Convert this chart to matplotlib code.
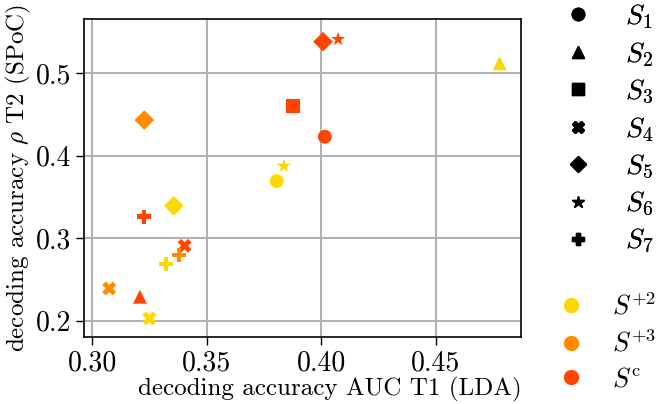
import matplotlib
matplotlib.use("Agg")
import matplotlib.pyplot as plt
from matplotlib.lines import Line2D

plt.rcParams['font.family'] = 'serif'
plt.rcParams['font.serif'] = ['cmr10', 'DejaVu Serif']
plt.rcParams['mathtext.fontset'] = 'cm'
plt.rcParams['axes.unicode_minus'] = False
plt.rcParams['axes.formatter.use_mathtext'] = True

# data
subjects = ['S1', 'S2', 'S3', 'S4', 'S5', 'S6', 'S7']
subject_labels = [r'$S_1$', r'$S_2$', r'$S_3$', r'$S_4$', r'$S_5$', r'$S_6$', r'$S_7$']
groups = ['Sc', 'S+3', 'S+2']
group_labels = {'S+2': r'$S^{+2}$', 'S+3': r'$S^{+3}$', 'Sc': r'$S^{\mathrm{c}}$'}

# Sc (red)
sc_subj = ['S1', 'S2', 'S3', 'S4', 'S5', 'S6', 'S7']
sc_auc = [0.4016, 0.3209, 0.3878, 0.3404, 0.4008, 0.4074, 0.3227]
sc_rho = [0.4231, 0.2290, 0.4603, 0.2908, 0.5384, 0.5413, 0.3260]

# S+3 (orange)
s3_subj = ['S4', 'S5', 'S7']
s3_auc = [0.3075, 0.3228, 0.3379]
s3_rho = [0.2391, 0.4433, 0.2797]

# S+2 (yellow)
s2_subj = ['S1', 'S2', 'S4', 'S5', 'S6', 'S7']
s2_auc = [0.3806, 0.4779, 0.3250, 0.3357, 0.3837, 0.3323]
s2_rho = [0.3693, 0.5121, 0.2027, 0.3393, 0.3875, 0.2686]

markers = {'S1': 'o', 'S2': '^', 'S3': 's', 'S4': 'X', 'S5': 'D', 'S6': '*', 'S7': 'P'}
colors = {'S+2': '#FFD700', 'S+3': '#FF8C00', 'Sc': '#FF4500'}

data = {
    'Sc': (sc_subj, sc_auc, sc_rho),
    'S+3': (s3_subj, s3_auc, s3_rho),
    'S+2': (s2_subj, s2_auc, s2_rho),
}

W, H = 661, 404
fig = plt.figure(figsize=(W / 100, H / 100), dpi=100)
ax = fig.add_axes([84 / W, 1 - 337 / H, (521 - 84) / W, (337 - 19) / H])

sizes = {'o': 100, '^': 100, 's': 100, 'X': 100, 'D': 100, '*': 115, 'P': 100}
for g in groups:
    subj, xs, ys = data[g]
    for s, x, y in zip(subj, xs, ys):
        m = markers[s]
        ax.scatter([x], [y], marker=m, s=sizes[m], color=colors[g], edgecolors='none', zorder=3)

ax.set_xlim(0.2965, 0.4872)
ax.set_ylim(0.1802, 0.5659)
ax.set_xticks([0.30, 0.35, 0.40, 0.45])
ax.set_xticklabels(['0.30', '0.35', '0.40', '0.45'])
ax.set_yticks([0.2, 0.3, 0.4, 0.5])
ax.set_yticklabels(['0.2', '0.3', '0.4', '0.5'])
ax.tick_params(labelsize=20, length=6, width=1, direction='out')
ax.grid(True, color='#b0b0b0', linewidth=1.4, zorder=0)
ax.set_axisbelow(True)
for sp in ax.spines.values():
    sp.set_linewidth(1.2)
ax.set_xlabel('decoding accuracy AUC T1 (LDA)', fontsize=18, labelpad=0,
              x=(330 - 84) / (521 - 84))
ax.set_ylabel(r'decoding accuracy $\rho$ T2 (SPoC)', fontsize=18, labelpad=2)

h1 = [Line2D([], [], marker=markers[s], color='black', linestyle='none', markersize=9 if markers[s] != 'D' else 8)
      for s in subjects]
leg1 = fig.legend(h1, subject_labels, loc='upper left', bbox_to_anchor=(564 / W, 1 - 2 / H),
                  frameon=False, fontsize=20, handlelength=1.0, handletextpad=1.2, labelspacing=0.33,
                  borderaxespad=0, borderpad=0)
fig.add_artist(leg1)
h2 = [Line2D([], [], marker='o', color=colors[g], linestyle='none', markersize=10)
      for g in ['S+2', 'S+3', 'Sc']]
leg2 = fig.legend(h2, [group_labels[g] for g in ['S+2', 'S+3', 'Sc']], loc='upper left',
                  bbox_to_anchor=(558 / W, 1 - 293 / H), frameon=False, fontsize=19,
                  handlelength=1.0, handletextpad=1.05, labelspacing=0.4,
                  borderaxespad=0, borderpad=0)

fig.savefig('out.png', dpi=100)
